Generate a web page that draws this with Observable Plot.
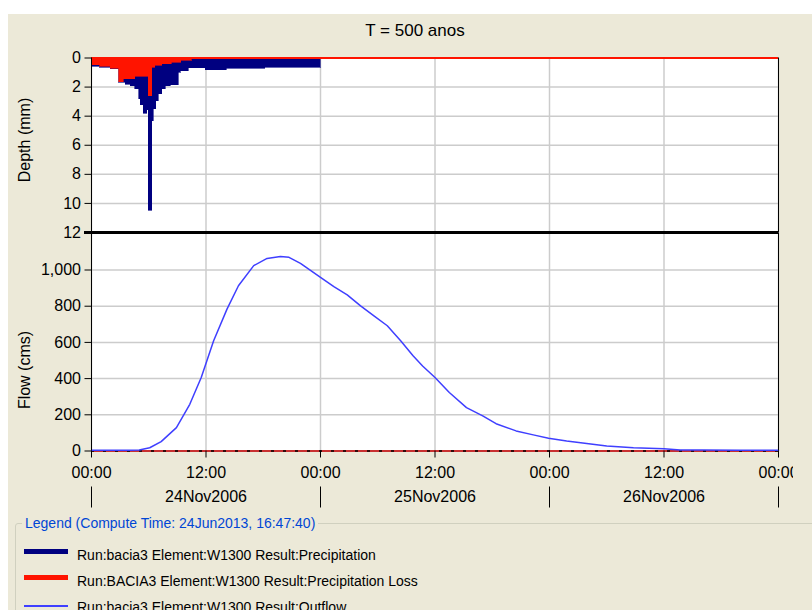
<!DOCTYPE html>
<html>
<head>
<meta charset="utf-8">
<script src="https://cdn.jsdelivr.net/npm/d3@7"></script>
<script src="https://cdn.jsdelivr.net/npm/@observablehq/plot@0.6"></script>
<style>
  body { margin: 0; width: 812px; height: 610px; overflow: hidden; background: #fff; position: relative;
         font-family: "Liberation Sans", Arial, sans-serif; }
  #bg { position: absolute; left: 8px; top: 14px; width: 804px; height: 596px; background: #ECE9D8; }
  #title { position: absolute; left: 0; width: 830px; top: 21px; text-align: center; font-size: 17px; line-height: 20px; color: #000; }
  .ylab { position: absolute; font-size: 16px; line-height: 18px; white-space: nowrap; transform: translate(-50%, -50%) rotate(-90deg); }
  #top, #bottom { position: absolute; left: 0; }
  #top { top: 40px; }
  #bottom { top: 225px; }
  #box { position: absolute; left: 15px; top: 515px; width: 820px; height: 140px; margin: 0; padding: 0;
         border: 1px solid #D0D0BF; border-radius: 3px; }
  #box legend { margin-left: 6px; padding: 0 3px; color: #0046D5; font-size: 14px; line-height: 16px; }
  .sw { position: absolute; left: 24px; width: 44px; }
  .lt { position: absolute; left: 77px; font-size: 14px; line-height: 16px; white-space: nowrap; color: #000; }
</style>
</head>
<body>
<div id="bg"></div>
<div id="title">T = 500 anos</div>
<div class="ylab" style="left:25px; top:140px;">Depth (mm)</div>
<div class="ylab" style="left:25px; top:370px;">Flow (cms)</div>
<div id="bottom"></div>
<div id="top"></div>
<fieldset id="box"><legend>Legend (Compute Time: 24Jun2013, 16:47:40)</legend></fieldset>
<div id="legitems"></div>
<script>
// ---- tick labels / categories ----
const hourTicks = [0, 12, 24, 36, 48, 60, 72];
const hourLabels = ["00:00", "12:00", "00:00", "12:00", "00:00", "12:00", "00:00"];
const dayTicks = [12, 36, 60];
const dayLabels = ["24Nov2006", "25Nov2006", "26Nov2006"];
const dayBounds = [0, 24, 48, 72];
const depthTicks = [0, 2, 4, 6, 8, 10, 12];
const flowTicks = [0, 200, 400, 600, 800, 1000];

// ---- precipitation (hours since 24Nov2006 00:00, depth mm per interval) ----
const precipBreaks = [0, 0.9, 2.0, 2.9, 3.6, 4.1, 4.6, 5.0, 5.15, 5.5, 5.85, 6.0, 6.36, 6.54, 6.78, 7.06, 7.41, 7.76, 8.29, 9.16, 9.34, 10.2, 11.95, 14.2, 18.2, 24];
const precipDepth  = [0.6, 0.67, 0.78, 1.7, 1.84, 1.93, 2.16, 2.85, 3.26, 3.84, 3.6, 10.5, 4.34, 3.54, 2.97, 2.5, 2.16, 1.93, 1.86, 1.0, 0.9, 0.72, 0.83, 0.74, 0.68];

// ---- precipitation loss ----
const lossBreaks = [0, 0.9, 2.0, 2.9, 3.4, 4.6, 6.0, 6.36, 6.7, 7.4, 8.4, 9.4, 10.5, 24];
const lossDepth  = [0.5, 0.6, 0.74, 1.66, 1.45, 1.3, 2.62, 0.67, 0.55, 0.44, 0.32, 0.2, 0.1];

// ---- outflow ----
const flowHours = [0, 1, 2, 3, 4, 5, 6.1, 7.3, 8.9, 10.3, 11.5, 12.8, 14.2, 15.4, 17.0, 18.4, 19.8, 20.7, 21.9, 24.0, 25.4, 26.8, 28.2, 29.6, 31.0, 32.4, 33.7, 34.7, 36.0, 37.5, 39.3, 41.0, 42.4, 44.5, 46.3, 47.9, 49.8, 51.9, 54.0, 56.8, 60.0, 61.7, 64, 68, 72];
const flowCms   = [4, 4, 4, 4, 4, 5, 18, 52, 129, 258, 406, 609, 784, 913, 1024, 1064, 1074, 1070, 1037, 959, 908, 863, 802, 747, 692, 609, 526, 470, 406, 323, 240, 194, 151, 111, 89, 70, 55, 41, 28, 18, 13, 6, 5, 4, 4];

// ---- legend ----
const legendLabels = ["Run:bacia3 Element:W1300 Result:Precipitation", "Run:BACIA3 Element:W1300 Result:Precipitation Loss", "Run:bacia3 Element:W1300 Result:Outflow"];
const legendColors = ["#000080", "#ff1400", "#3f3fff"];
const legendThick = [5, 5, 1.5];

const precip = precipDepth.map((d, i) => ({x1: precipBreaks[i], x2: precipBreaks[i + 1], depth: d}));
const loss = lossDepth.map((d, i) => ({x1: lossBreaks[i], x2: lossBreaks[i + 1], depth: d}));
const flow = flowHours.map((h, i) => ({h, q: flowCms[i]}));

const gridColor = "#cccccc";
const font = "\"Liberation Sans\", Arial, sans-serif";

const topPlot = Plot.plot({
  width: 793, height: 202,
  marginLeft: 91, marginRight: 15, marginTop: 17.5, marginBottom: 10,
  style: {background: "transparent", fontSize: "16px", fontFamily: font, color: "#000"},
  x: {domain: [0, 72], label: null, axis: null},
  y: {domain: [0, 12], reverse: true, label: null},
  marks: [
    Plot.frame({fill: "white", stroke: null}),
    Plot.gridX(hourTicks, {stroke: gridColor, strokeOpacity: 1, strokeWidth: 1.5}),
    Plot.gridY(depthTicks, {stroke: gridColor, strokeOpacity: 1, strokeWidth: 1.5}),
    Plot.rect(precip, {x1: "x1", x2: "x2", y1: 0, y2: "depth", fill: legendColors[0], stroke: legendColors[0], strokeWidth: 0.6, shapeRendering: "crispEdges"}),
    Plot.rect(loss, {x1: "x1", x2: "x2", y1: 0, y2: "depth", fill: legendColors[1], stroke: legendColors[1], strokeWidth: 0.6, shapeRendering: "crispEdges"}),
    Plot.ruleY([0], {stroke: legendColors[1], strokeWidth: 2}),
    Plot.ruleX([0, 72], {stroke: "black"}),
    Plot.ruleY([12], {stroke: "black", strokeWidth: 3, insetLeft: -7}),
    Plot.axisY({ticks: depthTicks, tickSize: 6.5, tickPadding: 4, label: null, tickFormat: d => String(d)})
  ]
});
document.getElementById("top").appendChild(topPlot);

const bottomPlot = Plot.plot({
  width: 793, height: 290,
  marginLeft: 91, marginRight: 15, marginTop: 6.5, marginBottom: 64.5,
  style: {background: "transparent", fontSize: "16px", fontFamily: font, color: "#000"},
  x: {domain: [0, 72], label: null},
  y: {domain: [0, 1210], label: null},
  marks: [
    Plot.frame({fill: "white", stroke: null}),
    Plot.gridX(hourTicks, {stroke: gridColor, strokeOpacity: 1, strokeWidth: 1.5}),
    Plot.gridY(flowTicks, {stroke: gridColor, strokeOpacity: 1, strokeWidth: 1.5}),
    Plot.ruleY([0], {stroke: "#c83030", strokeWidth: 2}),
    Plot.ruleY([0], {stroke: "black", strokeWidth: 1.5, strokeDasharray: "3,9"}),
    Plot.line(flow, {x: "h", y: "q", stroke: legendColors[2], strokeWidth: 1.5}),
    Plot.ruleX([0, 72], {stroke: "black"}),
    Plot.axisY({ticks: flowTicks, tickSize: 6.5, tickPadding: 4, label: null, tickFormat: d3.format(",")}),
    Plot.axisX({ticks: hourTicks, tickSize: 7, tickPadding: 8.5, label: null, tickFormat: d => hourLabels[hourTicks.indexOf(d)]}),
    Plot.axisX({ticks: dayTicks, tickSize: 0, tickPadding: 39.5, label: null, tickFormat: d => dayLabels[dayTicks.indexOf(d)]}),
    Plot.axisX({ticks: dayBounds, tickSize: 21, dy: 36, label: null, tickFormat: () => ""})
  ]
});
document.getElementById("bottom").appendChild(bottomPlot);

// legend items
const baselines = [560, 586, 612];
const swatchCenters = [551.5, 577.5, 606];
const li = document.getElementById("legitems");
legendLabels.forEach((t, i) => {
  const sw = document.createElement("div");
  sw.className = "sw";
  sw.style.top = (swatchCenters[i] - legendThick[i] / 2) + "px";
  sw.style.height = legendThick[i] + "px";
  sw.style.background = legendColors[i];
  li.appendChild(sw);
  const tx = document.createElement("div");
  tx.className = "lt";
  tx.style.top = (baselines[i] - 12.7) + "px";
  tx.textContent = t;
  li.appendChild(tx);
});
</script>
</body>
</html>
